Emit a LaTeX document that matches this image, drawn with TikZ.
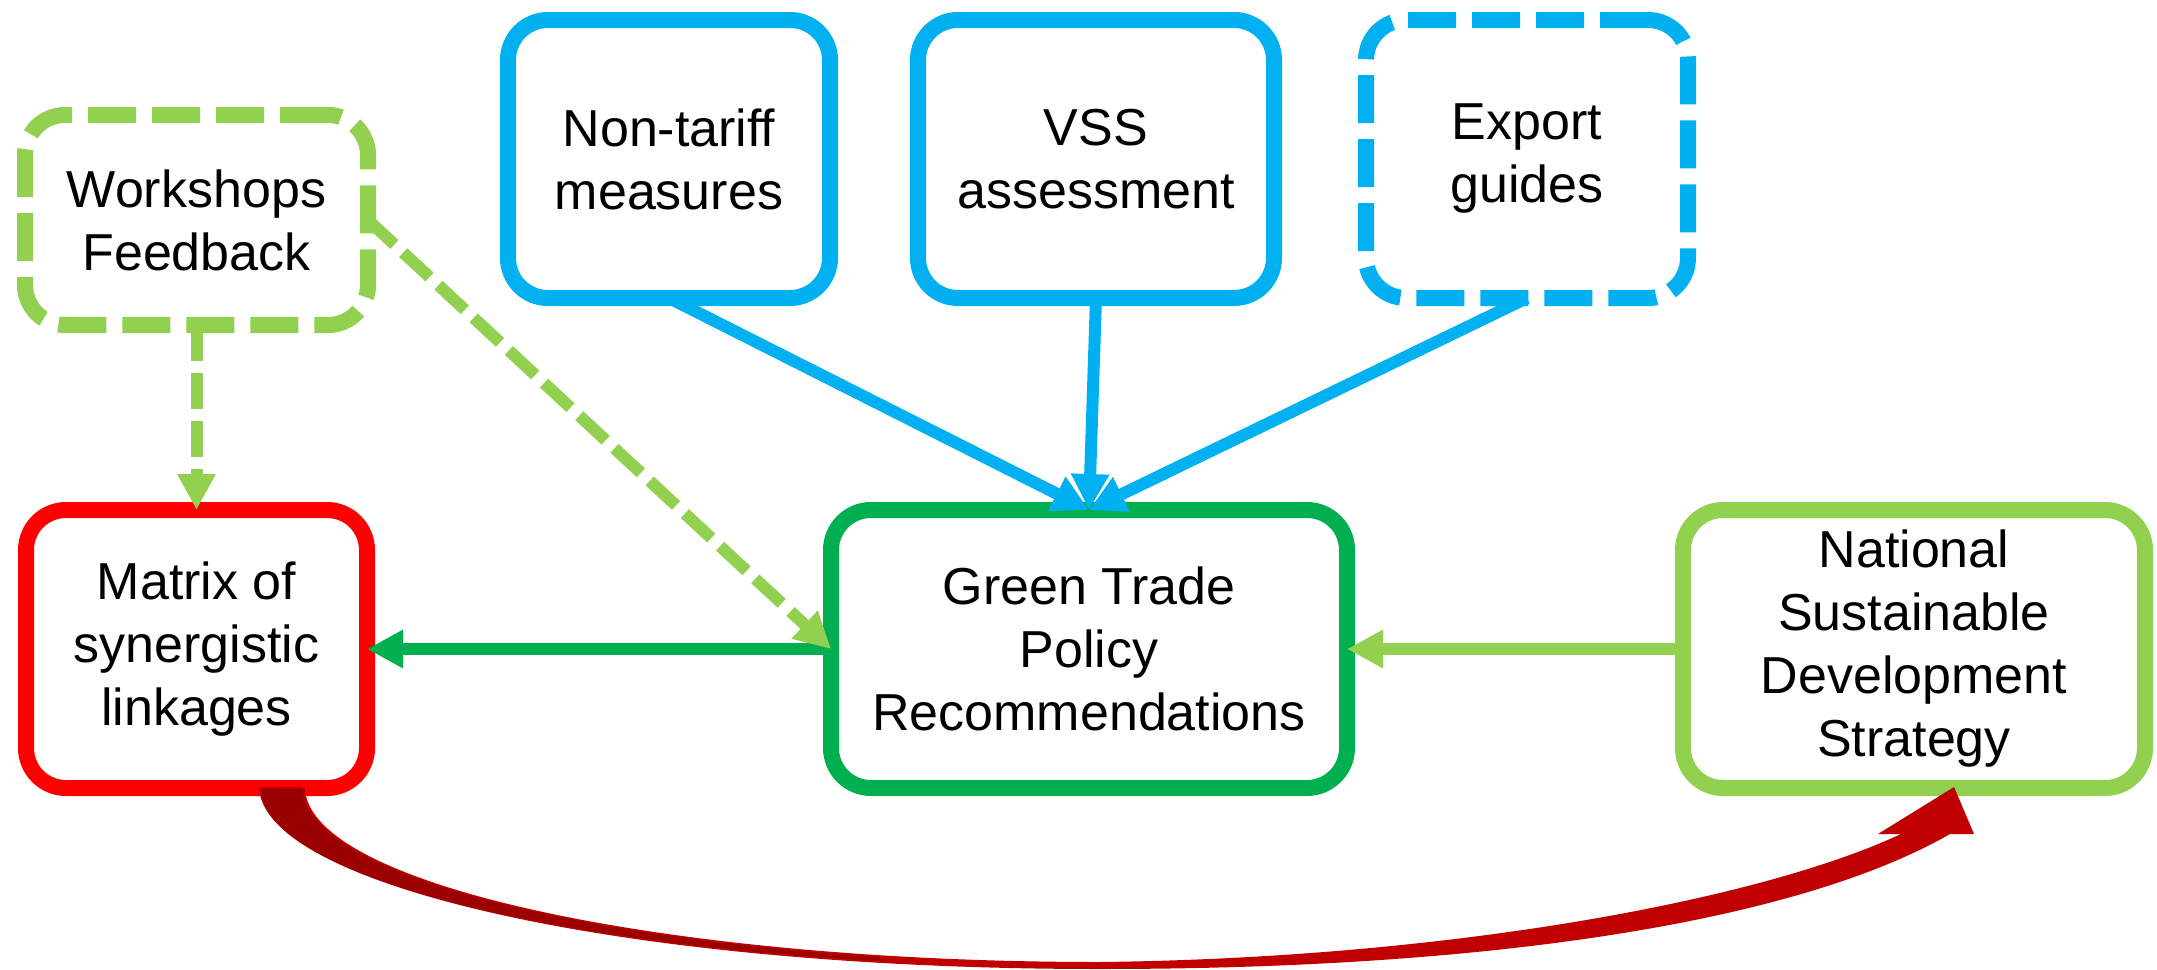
\documentclass[tikz,border=0pt]{standalone}
\usepackage{fontspec}
\setmainfont{Liberation Sans}
\usetikzlibrary{arrows.meta}
\definecolor{cblue}{HTML}{00B0F0}
\definecolor{cgreen}{HTML}{00B050}
\definecolor{clight}{HTML}{92D050}
\definecolor{cred}{HTML}{FF0000}
\definecolor{cdark}{HTML}{C00000}
\definecolor{cdarker}{HTML}{9A0000}
\begin{document}
\begin{tikzpicture}[x=1pt,y=-1pt,
  box/.style={draw, line width=16pt, rounded corners=40pt, fill=white, align=center,
    inner sep=0pt, outer sep=0pt, text=black, font=\fontsize{52}{63}\selectfont},
  boxdash/.style={dash pattern=on 48pt off 16pt},
  conn/.style={line width=12pt, -{Triangle[length=36pt,width=36pt]}},
  conndash/.style={dash pattern=on 36pt off 12pt}]
\useasboundingbox (0,0) rectangle (2157,969);

% boxes
\node[box, draw=clight, boxdash, minimum width=343pt, minimum height=210pt] (ws) at (196.5,220) {Workshops\\Feedback};
\node[box, draw=cblue, minimum width=322pt, minimum height=278pt] (nt) at (669,159) {Non-tariff\\measures};
\node[box, draw=cblue, minimum width=356pt, minimum height=278pt] (vss) at (1096,159) {VSS\\assessment};
\node[box, draw=cblue, boxdash, minimum width=322pt, minimum height=278pt] (exp) at (1527,159) {Export\\guides};
\node[box, draw=cred, minimum width=341pt, minimum height=278pt] (mat) at (196.5,649) {Matrix of\\synergistic\\linkages};
\node[box, draw=cgreen, minimum width=516pt, minimum height=278pt] (gtp) at (1089,649) {Green Trade\\Policy\\Recommendations};
\node[box, draw=clight, minimum width=462pt, minimum height=278pt] (nsds) at (1914,649) {National\\Sustainable\\Development\\Strategy};

% connectors
\draw[conn, cblue] (nt.south) -- (gtp.north);
\draw[conn, cblue] (vss.south) -- (gtp.north);
\draw[conn, cblue] (exp.south) -- (gtp.north);
\draw[conn, cgreen] (gtp.west) -- (mat.east);
\draw[conn, clight] (nsds.west) -- (gtp.east);
\draw[conn, conndash, clight] (ws.south) -- (mat.north);
\draw[conn, conndash, clight] (ws.east) -- (gtp.west);

% curved tapered arrow from Matrix to National strategy
\fill[cdark] (259,787) .. controls (262,885) and (620,969) .. (1100,969)
  .. controls (1500,969) and (1800,920) .. (1950,834)
  -- (1974,834) -- (1954,787) -- (1878,834) -- (1901,834)
  .. controls (1760,900) and (1450,958) .. (1100,962)
  .. controls (661,962) and (305,884) .. (305,787) -- cycle;
\begin{scope}
  \clip (0,700) rectangle (880,969);
  \fill[cdarker] (261,789) .. controls (264,885) and (620,967) .. (1100,967)
    -- (1100,964) .. controls (661,964) and (303,884) .. (303,789) -- cycle;
\end{scope}
\end{tikzpicture}
\end{document}
